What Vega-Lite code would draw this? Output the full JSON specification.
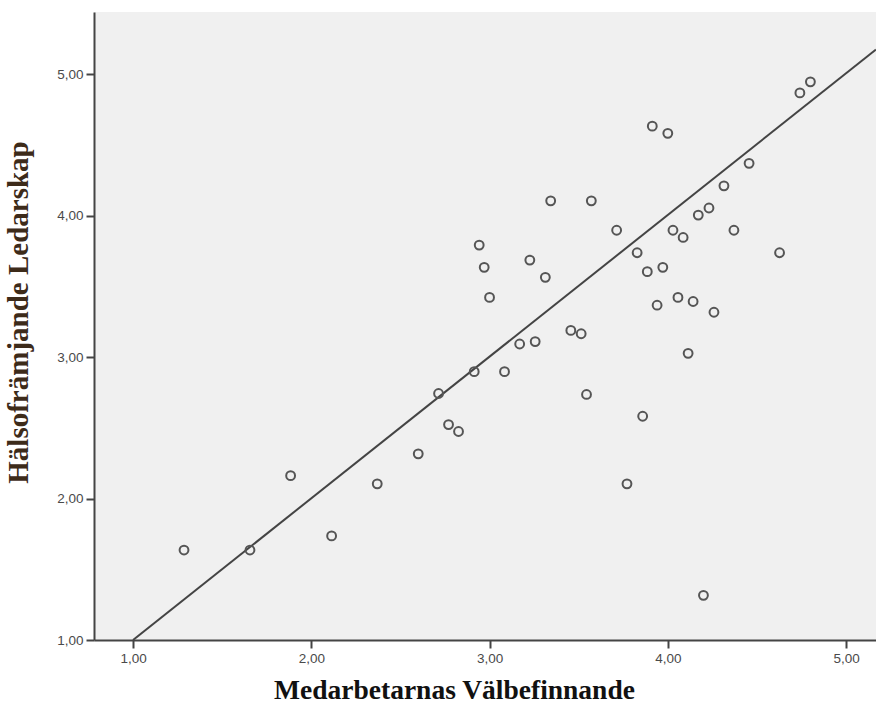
{
  "$schema": "https://vega.github.io/schema/vega-lite/v6.json",
  "width": 782,
  "height": 628,
  "autosize": {"type": "none"},
  "padding": {"left": 94, "top": 12, "right": 0, "bottom": 64},
  "background": "white",
  "config": {
    "view": {"fill": "#f0f0f0", "stroke": null},
    "axis": {
      "domainColor": "#444444",
      "domainWidth": 2,
      "tickColor": "#444444",
      "tickWidth": 2,
      "tickSize": 8,
      "grid": false,
      "labelFont": "Liberation Sans",
      "labelFontSize": 13.5,
      "labelColor": "#4a4a4a",
      "labelPadding": 3
    }
  },
  "datasets": {
    "pts": [
      {"x": 1.286, "y": 1.636}, {"x": 1.656, "y": 1.636}, {"x": 1.884, "y": 2.162},
      {"x": 2.114, "y": 1.736}, {"x": 2.370, "y": 2.104}, {"x": 2.600, "y": 2.316},
      {"x": 2.714, "y": 2.743}, {"x": 2.770, "y": 2.523}, {"x": 2.826, "y": 2.474},
      {"x": 2.914, "y": 2.897}, {"x": 2.942, "y": 3.792}, {"x": 2.970, "y": 3.635},
      {"x": 3.000, "y": 3.422}, {"x": 3.084, "y": 2.897}, {"x": 3.169, "y": 3.093},
      {"x": 3.226, "y": 3.686}, {"x": 3.256, "y": 3.110}, {"x": 3.313, "y": 3.564},
      {"x": 3.343, "y": 4.105}, {"x": 3.456, "y": 3.189}, {"x": 3.514, "y": 3.165},
      {"x": 3.544, "y": 2.736}, {"x": 3.571, "y": 4.105}, {"x": 3.713, "y": 3.897},
      {"x": 3.771, "y": 2.104}, {"x": 3.828, "y": 3.738}, {"x": 3.859, "y": 2.582},
      {"x": 3.885, "y": 3.604}, {"x": 3.913, "y": 4.633}, {"x": 3.940, "y": 3.367},
      {"x": 3.972, "y": 3.635}, {"x": 4.000, "y": 4.582}, {"x": 4.029, "y": 3.897},
      {"x": 4.057, "y": 3.422}, {"x": 4.086, "y": 3.846}, {"x": 4.114, "y": 3.027},
      {"x": 4.142, "y": 3.393}, {"x": 4.171, "y": 4.004}, {"x": 4.200, "y": 1.316},
      {"x": 4.231, "y": 4.054}, {"x": 4.259, "y": 3.317}, {"x": 4.315, "y": 4.211},
      {"x": 4.371, "y": 3.897}, {"x": 4.456, "y": 4.370}, {"x": 4.627, "y": 3.738},
      {"x": 4.741, "y": 4.868}, {"x": 4.800, "y": 4.946}
    ],
    "fit": [
      {"x": 1.0, "y": 1.0},
      {"x": 5.168, "y": 5.175}
    ]
  },
  "layer": [
    {
      "data": {"name": "fit"},
      "mark": {"type": "line", "color": "#444444", "strokeWidth": 2, "clip": true},
      "encoding": {
        "x": {"field": "x", "type": "quantitative"},
        "y": {"field": "y", "type": "quantitative"}
      }
    },
    {
      "data": {"name": "pts"},
      "mark": {"type": "point", "shape": "circle", "filled": false, "size": 78, "stroke": "#555555", "strokeWidth": 2, "opacity": 1},
      "encoding": {
        "x": {
          "field": "x", "type": "quantitative",
          "scale": {"domain": [0.781, 5.168], "nice": false, "zero": false},
          "axis": {
            "values": [1, 2, 3, 4, 5],
            "labelExpr": "replace(format(datum.value, '.2f'), '.', ',')",
            "title": "Medarbetarnas Välbefinnande",
            "titleFont": "Liberation Serif",
            "titleFontSize": 27.5,
            "titleFontWeight": "bold",
            "titleColor": "#111111",
            "titleX": 360,
            "titleY": 58,
            "titleBaseline": "alphabetic",
            "titleAlign": "center"
          }
        },
        "y": {
          "field": "y", "type": "quantitative",
          "scale": {"domain": [1.0, 5.44], "nice": false, "zero": false},
          "axis": {
            "values": [1, 2, 3, 4, 5],
            "labelExpr": "replace(format(datum.value, '.2f'), '.', ',')",
            "title": "Hälsofrämjande Ledarskap",
            "titleFont": "Liberation Serif",
            "titleFontSize": 29,
            "titleFontWeight": "bold",
            "titleColor": "#3d2b1a",
            "titleX": -67,
            "titleY": 300,
            "titleBaseline": "alphabetic",
            "titleAlign": "center",
            "titleAngle": -90
          }
        }
      }
    }
  ]
}
